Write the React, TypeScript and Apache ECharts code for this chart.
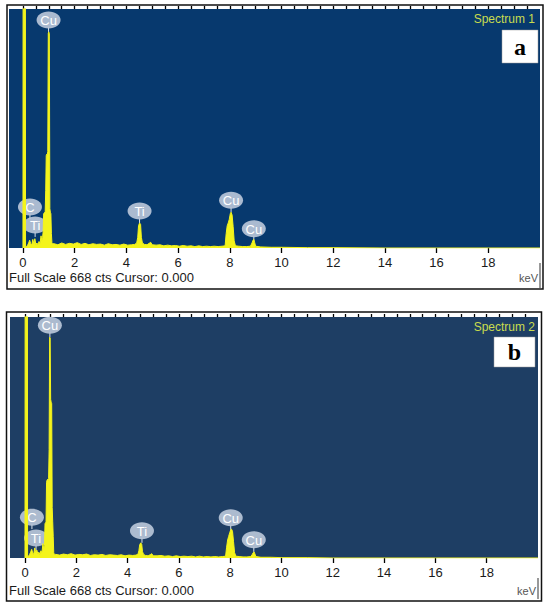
import React, { useEffect, useRef } from "react";
import * as echarts from "echarts";

// Energy grid (keV), shared by both spectra
const energies = [
  0, 0.01, 0.09, 0.1, 0.14, 0.18, 0.22, 0.26, 0.3, 0.34, 0.38, 0.42, 0.46, 0.5, 0.54, 0.58, 0.62, 0.66, 0.7, 0.73,
  0.76, 0.78, 0.8, 0.82, 0.84, 0.86, 0.88, 0.9, 0.92, 0.94, 0.96, 0.98, 1.0, 1.02, 1.04, 1.06, 1.08, 1.1, 1.12, 1.14,
  1.2, 1.35, 1.5, 1.65, 1.8, 1.95, 2.1, 2.25, 2.4, 2.55, 2.7, 2.85, 3.0, 3.15, 3.3, 3.45, 3.6, 3.75, 3.9, 4.05, 4.2, 4.32,
  4.4, 4.44, 4.47, 4.51, 4.55, 4.58, 4.62, 4.7, 4.8, 4.9, 4.94, 5.0,
  5.15, 5.3, 5.45, 5.6, 5.75, 5.9, 6.05, 6.2, 6.35, 6.5, 6.65, 6.8, 6.95, 7.1, 7.25, 7.4, 7.55, 7.7,
  7.82, 7.86, 7.9, 7.94, 7.98, 8.02, 8.05, 8.09, 8.13, 8.17, 8.22, 8.35, 8.5, 8.65, 8.8,
  8.86, 8.9, 8.93, 8.96, 9.0, 9.2, 9.6, 10.0, 11.0, 12.0, 14.0, 16.0, 18.0, 20.0,
];

// Spectrum 1 counts
const counts1 = [
  0, 1500, 1500, 5, 4, 8, 14, 22, 12, 8, 24, 12, 26, 10, 14, 9, 18, 12, 34, 20,
  30, 45, 95, 98, 100, 102, 160, 258, 262, 260, 270, 600, 604, 598, 110, 100, 96, 40, 15, 12,
  12, 9, 14, 10, 13, 11, 15, 10, 13, 9, 12, 10, 11, 8, 12, 9, 10, 8, 11, 8, 9, 10,
  14, 30, 62, 70, 66, 30, 14, 10, 9, 14, 16, 9,
  8, 9, 6, 8, 6, 7, 5, 7, 5, 6, 4, 6, 4, 5, 4, 5, 4, 5,
  6, 40, 62, 70, 80, 96, 100, 92, 60, 20, 6, 5, 4, 4, 5,
  14, 22, 24, 16, 5, 3, 2, 2, 1, 1, 0, 0, 0, 0,
];

// Spectrum 2 counts
const counts2 = [
  0, 1500, 1500, 6, 5, 10, 16, 24, 14, 10, 28, 14, 22, 12, 16, 10, 20, 14, 40, 24,
  35, 95, 98, 100, 210, 216, 218, 214, 220, 300, 612, 610, 440, 432, 428, 140, 100, 60, 15, 10,
  10, 8, 11, 9, 12, 8, 10, 9, 11, 7, 9, 8, 10, 7, 9, 8, 7, 9, 6, 8, 7, 8,
  10, 20, 36, 42, 38, 18, 10, 7, 6, 10, 12, 6,
  6, 7, 5, 6, 4, 6, 4, 5, 4, 5, 3, 5, 3, 4, 3, 4, 3, 4,
  5, 30, 50, 60, 70, 78, 80, 74, 45, 15, 5, 4, 3, 3, 4,
  10, 15, 17, 12, 4, 2, 2, 1, 1, 0, 0, 0, 0, 0,
];

const fullScale = 668;
const tickLabels = [0, 2, 4, 6, 8, 10, 12, 14, 16, 18];
const minorTicks: number[] = [];
for (let t = 0; t < 20; t += 0.5) minorTicks.push(t);

// Peak labels
const peakNames = ["C", "Ti", "Cu", "Ti", "Cu", "Cu"];
const peakEnergies1 = [0.27, 0.47, 0.99, 4.51, 8.05, 8.93];
const peakLabelCounts1 = [81, 31, 604, 70, 100, 20];
const peakEnergies2 = [0.27, 0.43, 0.97, 4.56, 8.02, 8.92];
const peakLabelCounts2 = [80, 22, 612, 42, 78, 17];

const YELLOW = "#f4f41c";
const FONT = "'Liberation Sans', Arial, sans-serif";

function makeRenderItem(names: string[]) {
  return (params: any, api: any) => {
    const p = api.coord([api.value(0), api.value(1)]);
    const cy = p[1] - 12;
    return {
      type: "group",
      children: [
        { type: "line", shape: { x1: p[0], y1: p[1], x2: p[0], y2: cy + 7 }, style: { stroke: "#dde3ea", lineWidth: 1 } },
        { type: "ellipse", shape: { cx: p[0], cy, rx: 12, ry: 8.5 }, style: { fill: "rgba(184,198,216,0.92)" } },
        {
          type: "text",
          x: p[0],
          y: cy + 0.5,
          style: { text: names[params.dataIndex], fill: "#ffffff", font: `13px ${FONT}`, align: "center", verticalAlign: "middle" },
        },
      ],
    };
  };
}

export default function App() {
  const ref = useRef<HTMLDivElement>(null);
  useEffect(() => {
    document.body.style.margin = "0";
    const chart = echarts.init(ref.current!, undefined, { renderer: "svg" });
    const spec1 = energies.map((e, i) => [e, counts1[i]]);
    const spec2 = energies.map((e, i) => [e, counts2[i]]);
    const mkX = (grid: number, min: number, major: boolean) => ({
      type: "value",
      gridIndex: grid,
      min,
      max: 20,
      axisLine: { show: false },
      splitLine: { show: false },
      axisTick: {
        show: true,
        length: major ? 5 : 3,
        customValues: major ? tickLabels : minorTicks,
        lineStyle: { color: "#000", width: 1.3 },
      },
      axisLabel: major
        ? { show: true, customValues: tickLabels, fontSize: 13, color: "#1a1a1a", margin: 8, fontFamily: FONT }
        : { show: false },
    });
    const option: any = {
      animation: false,
      backgroundColor: "#ffffff",
      grid: [
        { left: 9, top: 9, width: 531, height: 239, show: true, backgroundColor: "#07396e", borderWidth: 0 },
        { left: 10, top: 317, width: 528, height: 241, show: true, backgroundColor: "#1e3e64", borderWidth: 0 },
      ],
      xAxis: [mkX(0, -0.54, true), mkX(0, -0.54, false), mkX(1, -0.585, true), mkX(1, -0.585, false)],
      yAxis: [
        { type: "value", gridIndex: 0, min: 0, max: fullScale, show: false },
        { type: "value", gridIndex: 1, min: 0, max: fullScale, show: false },
      ],
      series: [
        {
          type: "line", xAxisIndex: 0, yAxisIndex: 0, data: spec1, symbol: "none", clip: true,
          lineStyle: { color: YELLOW, width: 1 }, areaStyle: { color: YELLOW, opacity: 1 },
        },
        {
          type: "line", xAxisIndex: 2, yAxisIndex: 1, data: spec2, symbol: "none", clip: true,
          lineStyle: { color: YELLOW, width: 1 }, areaStyle: { color: YELLOW, opacity: 1 },
        },
        {
          type: "custom", xAxisIndex: 0, yAxisIndex: 0, clip: false,
          data: peakEnergies1.map((e, i) => [e, peakLabelCounts1[i]]),
          encode: { x: 0, y: 1 },
          renderItem: makeRenderItem(peakNames),
        },
        {
          type: "custom", xAxisIndex: 2, yAxisIndex: 1, clip: false,
          data: peakEnergies2.map((e, i) => [e, peakLabelCounts2[i]]),
          encode: { x: 0, y: 1 },
          renderItem: makeRenderItem(peakNames),
        },
      ],
      graphic: [
        { type: "rect", shape: { x: 7, y: 5, width: 536, height: 284 }, style: { fill: "none", stroke: "#111", lineWidth: 1.5 }, z: 10 },
        { type: "rect", shape: { x: 6.5, y: 312, width: 535, height: 289 }, style: { fill: "none", stroke: "#111", lineWidth: 1.5 }, z: 10 },
        { type: "text", x: 535, y: 19, style: { text: "Spectrum 1", fill: "#c9dc4e", font: `12px ${FONT}`, align: "right", verticalAlign: "middle" }, z: 10 },
        { type: "text", x: 535, y: 327, style: { text: "Spectrum 2", fill: "#c9dc4e", font: `12px ${FONT}`, align: "right", verticalAlign: "middle" }, z: 10 },
        { type: "rect", shape: { x: 502, y: 30, width: 36, height: 33 }, style: { fill: "#ffffff", stroke: "#999", lineWidth: 0.5 }, z: 10 },
        { type: "text", x: 520, y: 47, style: { text: "a", fill: "#000", font: "bold 24px 'Liberation Serif', 'Times New Roman', serif", align: "center", verticalAlign: "middle" }, z: 11 },
        { type: "rect", shape: { x: 494, y: 337, width: 41, height: 30 }, style: { fill: "#ffffff", stroke: "#999", lineWidth: 0.5 }, z: 10 },
        { type: "text", x: 514.5, y: 352, style: { text: "b", fill: "#000", font: "bold 24px 'Liberation Serif', 'Times New Roman', serif", align: "center", verticalAlign: "middle" }, z: 11 },
        { type: "text", x: 9, y: 277, style: { text: "Full Scale 668 cts Cursor: 0.000", fill: "#1a1a1a", font: `13px ${FONT}`, align: "left", verticalAlign: "middle" }, z: 10 },
        { type: "text", x: 9, y: 590, style: { text: "Full Scale 668 cts Cursor: 0.000", fill: "#1a1a1a", font: `13px ${FONT}`, align: "left", verticalAlign: "middle" }, z: 10 },
        { type: "text", x: 538, y: 278, style: { text: "keV", fill: "#555", font: `11px ${FONT}`, align: "right", verticalAlign: "middle" }, z: 10 },
        { type: "text", x: 536, y: 591, style: { text: "keV", fill: "#555", font: `11px ${FONT}`, align: "right", verticalAlign: "middle" }, z: 10 },
        { type: "line", shape: { x1: 540, y1: 263, x2: 540, y2: 288 }, style: { stroke: "#333", lineWidth: 1 }, z: 10 },
        { type: "line", shape: { x1: 538, y1: 578, x2: 538, y2: 599 }, style: { stroke: "#333", lineWidth: 1 }, z: 10 },
      ],
    };
    chart.setOption(option);
    return () => chart.dispose();
  }, []);
  return <div ref={ref} style={{ width: 550, height: 610 }} />;
}
